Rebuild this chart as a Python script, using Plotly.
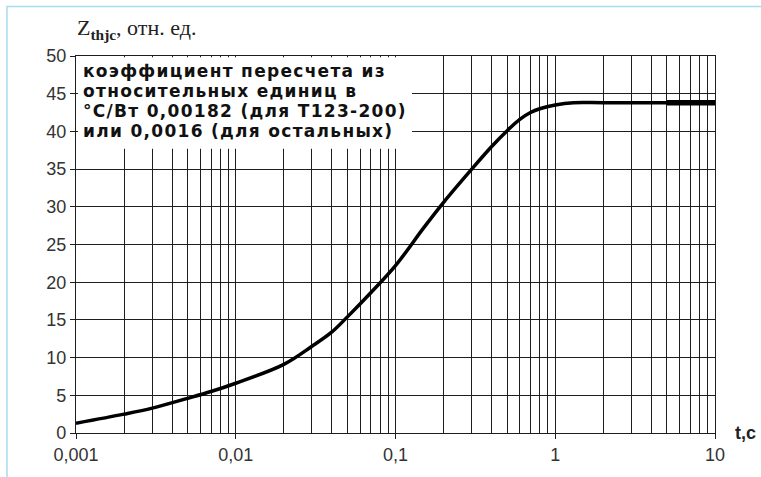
import plotly.graph_objects as go

# Transient thermal impedance curve, Z_thjc (relative units) vs time t (s)
t_s = [0.001, 0.002, 0.003, 0.005, 0.007, 0.01, 0.02, 0.03, 0.04, 0.05, 0.07,
       0.1, 0.15, 0.2, 0.3, 0.4, 0.5, 0.6, 0.7, 0.8, 1.0, 1.3, 2.0, 5.0, 10.0]
z_rel = [1.3, 2.5, 3.3, 4.6, 5.5, 6.6, 9.1, 11.5, 13.4, 15.4, 18.6,
         22.2, 27.2, 30.6, 35.0, 38.0, 40.1, 41.6, 42.5, 43.0, 43.5, 43.8, 43.8, 43.8, 43.8]

x_major = [0.001, 0.01, 0.1, 1, 10]
x_major_text = ["0,001", "0,01", "0,1", "1", "10"]
x_minor = [m * d for d in [0.001, 0.01, 0.1, 1] for m in range(2, 10)]
y_ticks = list(range(0, 51, 5))

note_lines = [
    "коэффициент пересчета из",
    "относительных единиц в",
    "°С/Вт 0,00182 (для Т123-200)",
    "или 0,0016 (для остальных)",
]

GRID = "#1e1e1e"
LABEL = "#333333"
PLOT_H = 381  # plot area height in px, for placing text in paper units

fig = go.Figure()
fig.add_trace(go.Scatter(
    x=t_s, y=z_rel, mode="lines",
    line=dict(color="#000000", width=3.5, shape="spline", smoothing=1.0),
    showlegend=False, hoverinfo="skip",
))
# heavier stroke on the final plateau stretch
tail = [i for i, t in enumerate(t_s) if t >= 5.0]
fig.add_trace(go.Scatter(
    x=[t_s[i] for i in tail], y=[z_rel[i] for i in tail], mode="lines",
    line=dict(color="#000000", width=5.5),
    showlegend=False, hoverinfo="skip",
))

fig.update_layout(
    width=761, height=477,
    margin=dict(l=76, r=46, t=56, b=40),
    paper_bgcolor="white", plot_bgcolor="white",
    font=dict(family="Liberation Sans, Arial, sans-serif", color=LABEL, size=18),
    xaxis=dict(
        type="log", range=[-3, 1],
        tickmode="array", tickvals=x_major, ticktext=x_major_text,
        showgrid=True, gridcolor=GRID, gridwidth=1.4,
        minor=dict(tickmode="array", tickvals=x_minor, showgrid=True,
                   gridcolor=GRID, gridwidth=1.4, ticks=""),
        ticks="outside", ticklen=5, tickcolor=GRID, tickwidth=1.4,
        showline=True, linecolor=GRID, linewidth=1.4, mirror=True,
        zeroline=False, tickfont=dict(size=18, color=LABEL),
    ),
    yaxis=dict(
        range=[0, 50], tickmode="array", tickvals=y_ticks,
        showgrid=True, gridcolor=GRID, gridwidth=1.4,
        ticks="outside", ticklen=5, tickcolor=GRID, tickwidth=1.4,
        showline=True, linecolor=GRID, linewidth=1.4, mirror=True,
        zeroline=False, tickfont=dict(size=18, color=LABEL),
    ),
)

# white panel behind the conversion note, hiding the grid there
fig.add_shape(type="rect", xref="x", yref="y", layer="above",
              x0=0.00103, x1=0.127, y0=37.7, y1=49.85,
              fillcolor="white", line=dict(width=0))

# conversion note, one annotation per line for tight line spacing
for i, line in enumerate(note_lines):
    fig.add_annotation(
        xref="paper", yref="paper", x=0.008, y=1 - (15 + 20.3 * i) / PLOT_H,
        xanchor="left", yanchor="middle", showarrow=False, align="left",
        text=f"<span style='letter-spacing:1.3px'><b>{line}</b></span>",
        font=dict(family="DejaVu Sans, sans-serif", size=17, color="#111111"),
    )

# axis titles
fig.add_annotation(
    xref="paper", yref="paper", x=-0.002, y=1.029,
    xanchor="left", yanchor="bottom", showarrow=False,
    text="Z<sub><b>thjc</b></sub>, отн. ед.",
    font=dict(family="Liberation Serif, Times New Roman, serif", size=22, color="#222222"),
)
fig.add_annotation(
    xref="paper", yref="paper", x=1.028, y=0.0,
    xanchor="left", yanchor="middle", showarrow=False,
    text="<b>t,c</b>",
    font=dict(family="Liberation Sans, Arial, sans-serif", size=18, color="#222222"),
)

# light blue outer frame
fig.add_shape(type="rect", xref="paper", yref="paper", layer="above",
              x0=-0.108, x1=1.2, y0=-0.5, y1=1.131,
              fillcolor="rgba(0,0,0,0)", line=dict(color="#a6dcef", width=1.5))

fig.write_html("out.html")
